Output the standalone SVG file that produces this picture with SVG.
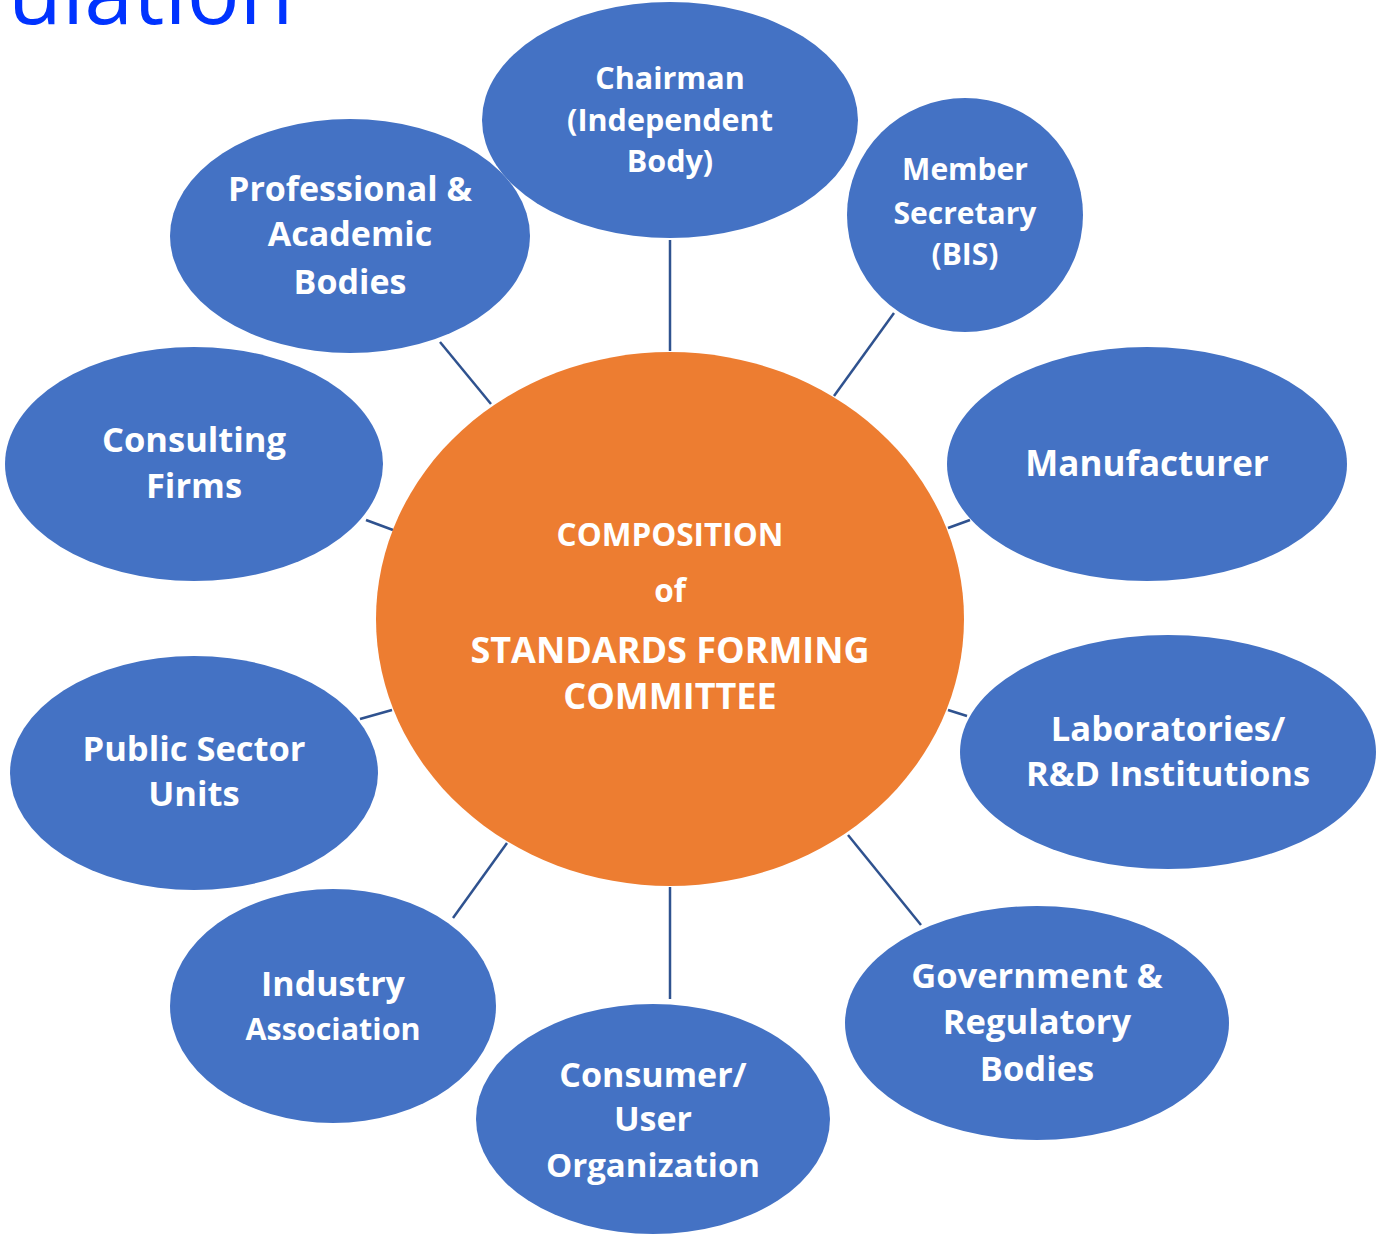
<svg xmlns="http://www.w3.org/2000/svg" width="1377" height="1235" viewBox="0 0 1377 1235">
<style>
.node{fill:#4472C4;}
.core{fill:#ED7D31;}
.t{font-family:"Open Sans","Noto Sans","Liberation Sans",sans-serif;font-weight:700;fill:#FFFFFF;text-anchor:middle;}
.c line{stroke:#2F528F;stroke-width:2.5;}
.title{font-family:"Open Sans","Noto Sans","Liberation Sans",sans-serif;font-weight:400;fill:#0033FF;}
</style>
<rect width="1377" height="1235" fill="#FFFFFF"/>
<text class="title" x="8" y="24" font-size="88">ulation</text>
<g id="connectors" class="c">
<line x1="670" y1="240" x2="670" y2="351"/>
<line x1="894" y1="313" x2="834" y2="396"/>
<line x1="948" y1="528" x2="970" y2="520"/>
<line x1="948" y1="710" x2="967" y2="716"/>
<line x1="848" y1="835" x2="921" y2="925"/>
<line x1="670" y1="887" x2="670" y2="999"/>
<line x1="507" y1="843" x2="453" y2="918"/>
<line x1="392" y1="710" x2="360" y2="719"/>
<line x1="366" y1="520" x2="393" y2="530"/>
<line x1="440" y1="342" x2="491" y2="404"/>
</g>
<g id="center">
<ellipse class="core" cx="670" cy="619" rx="294" ry="267"/>
<text class="t" x="670" y="546" font-size="31.5">COMPOSITION</text>
<text class="t" x="670" y="602" font-size="31.5">of</text>
<text class="t" x="670" y="663" font-size="36">STANDARDS FORMING</text>
<text class="t" x="670" y="709" font-size="36">COMMITTEE</text>
</g>
<g id="chairman">
<ellipse class="node" cx="670" cy="120" rx="188" ry="118"/>
<text class="t" x="670" y="89" font-size="30.5">Chairman</text>
<text class="t" x="670" y="131" font-size="30.5">(Independent</text>
<text class="t" x="670" y="172" font-size="30.5">Body)</text>
</g>
<g id="member-secretary">
<ellipse class="node" cx="965" cy="215" rx="118" ry="117"/>
<text class="t" x="965" y="180" font-size="30">Member</text>
<text class="t" x="965" y="224" font-size="30">Secretary</text>
<text class="t" x="965" y="265" font-size="30">(BIS)</text>
</g>
<g id="manufacturer">
<ellipse class="node" cx="1147" cy="464" rx="200" ry="117"/>
<text class="t" x="1147" y="476" font-size="35">Manufacturer</text>
</g>
<g id="laboratories">
<ellipse class="node" cx="1168" cy="752" rx="208" ry="117"/>
<text class="t" x="1168" y="741" font-size="34.5">Laboratories/</text>
<text class="t" x="1168" y="786" font-size="34.5">R&amp;D Institutions</text>
</g>
<g id="government">
<ellipse class="node" cx="1037" cy="1023" rx="192" ry="117"/>
<text class="t" x="1037" y="988" font-size="34.5">Government &amp;</text>
<text class="t" x="1037" y="1034" font-size="34.5">Regulatory</text>
<text class="t" x="1037" y="1081" font-size="34.5">Bodies</text>
</g>
<g id="consumer">
<ellipse class="node" cx="653" cy="1119" rx="177" ry="115"/>
<text class="t" x="653" y="1087" font-size="34">Consumer/</text>
<text class="t" x="653" y="1131" font-size="34">User</text>
<text class="t" x="653" y="1177" font-size="33">Organization</text>
</g>
<g id="industry">
<ellipse class="node" cx="333" cy="1006" rx="163" ry="117"/>
<text class="t" x="333" y="996" font-size="34">Industry</text>
<text class="t" x="333" y="1040" font-size="30.5">Association</text>
</g>
<g id="public-sector">
<ellipse class="node" cx="194" cy="773" rx="184" ry="117"/>
<text class="t" x="194" y="761" font-size="34.5">Public Sector</text>
<text class="t" x="194" y="806" font-size="34.5">Units</text>
</g>
<g id="consulting">
<ellipse class="node" cx="194" cy="464" rx="189" ry="117"/>
<text class="t" x="194" y="452" font-size="34.5">Consulting</text>
<text class="t" x="194" y="498" font-size="34.5">Firms</text>
</g>
<g id="professional">
<ellipse class="node" cx="350" cy="236" rx="180" ry="117"/>
<text class="t" x="350" y="201" font-size="34">Professional &amp;</text>
<text class="t" x="350" y="246" font-size="34">Academic</text>
<text class="t" x="350" y="294" font-size="34">Bodies</text>
</g>
</svg>
